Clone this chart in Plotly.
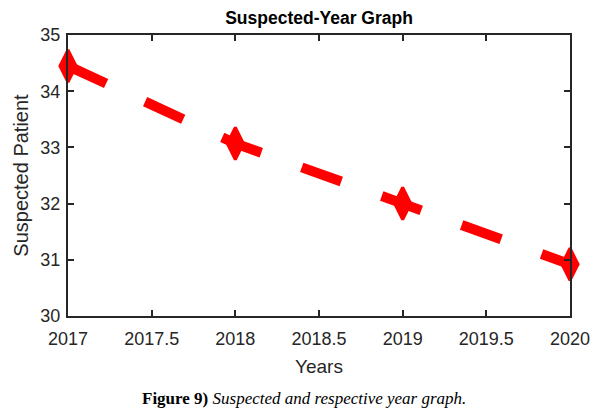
import plotly.graph_objects as go

years = [2017, 2018, 2019, 2020]
suspected = [34.45, 33.07, 32.0, 30.92]
x_ticks = [2017, 2017.5, 2018, 2018.5, 2019, 2019.5, 2020]
x_tick_labels = ["2017", "2017.5", "2018", "2018.5", "2019", "2019.5", "2020"]
y_ticks = [30, 31, 32, 33, 34, 35]

fig = go.Figure()
fig.add_trace(go.Scatter(
    x=years, y=suspected, mode="lines+markers",
    line=dict(color="#ff0000", width=10, dash="42px,43px"),
    marker=dict(symbol="diamond-tall", size=23, color="#ff0000",
                line=dict(color="#ff0000", width=3)),
    cliponaxis=False, showlegend=False,
))

FONT = "Liberation Sans, Arial"
axis_common = dict(
    showline=True, linecolor="#262626", linewidth=2, mirror="ticks",
    ticks="inside", ticklen=6, tickwidth=1.5, tickcolor="#262626",
    showgrid=False, zeroline=False,
    tickfont=dict(family=FONT, size=18, color="#262626"),
)

fig.update_layout(
    width=605, height=416,
    margin=dict(l=68, r=35, t=35, b=100),
    plot_bgcolor="white", paper_bgcolor="white",
    title=dict(text="<b>Suspected-Year Graph</b>", x=(68 + 570) / 2 / 605, xanchor="center",
               y=1 - 18/416, yanchor="middle",
               font=dict(family=FONT, size=17.5, color="black")),
    xaxis=dict(range=[2017, 2020], tickvals=x_ticks, ticktext=x_tick_labels,
               ticklabelstandoff=5,
               title=dict(text="Years", standoff=12,
                          font=dict(family=FONT, size=19, color="#262626")),
               **axis_common),
    yaxis=dict(range=[30, 35], tickvals=y_ticks,
               ticklabelstandoff=2,
               title=dict(text="Suspected Patient", standoff=6,
                          font=dict(family=FONT, size=20, color="#262626")),
               **axis_common),
)

fig.add_annotation(
    text="<b>Figure 9)</b> <i>Suspected and respective year graph.</i>",
    xref="paper", yref="paper", x=((145 + 463) / 2 - 68) / (570 - 68), y=-(398 - 316) / 281,
    xanchor="center", yanchor="middle",
    showarrow=False, font=dict(family="Liberation Serif, Times New Roman", size=17, color="black"),
)

fig.write_html("out.html")
